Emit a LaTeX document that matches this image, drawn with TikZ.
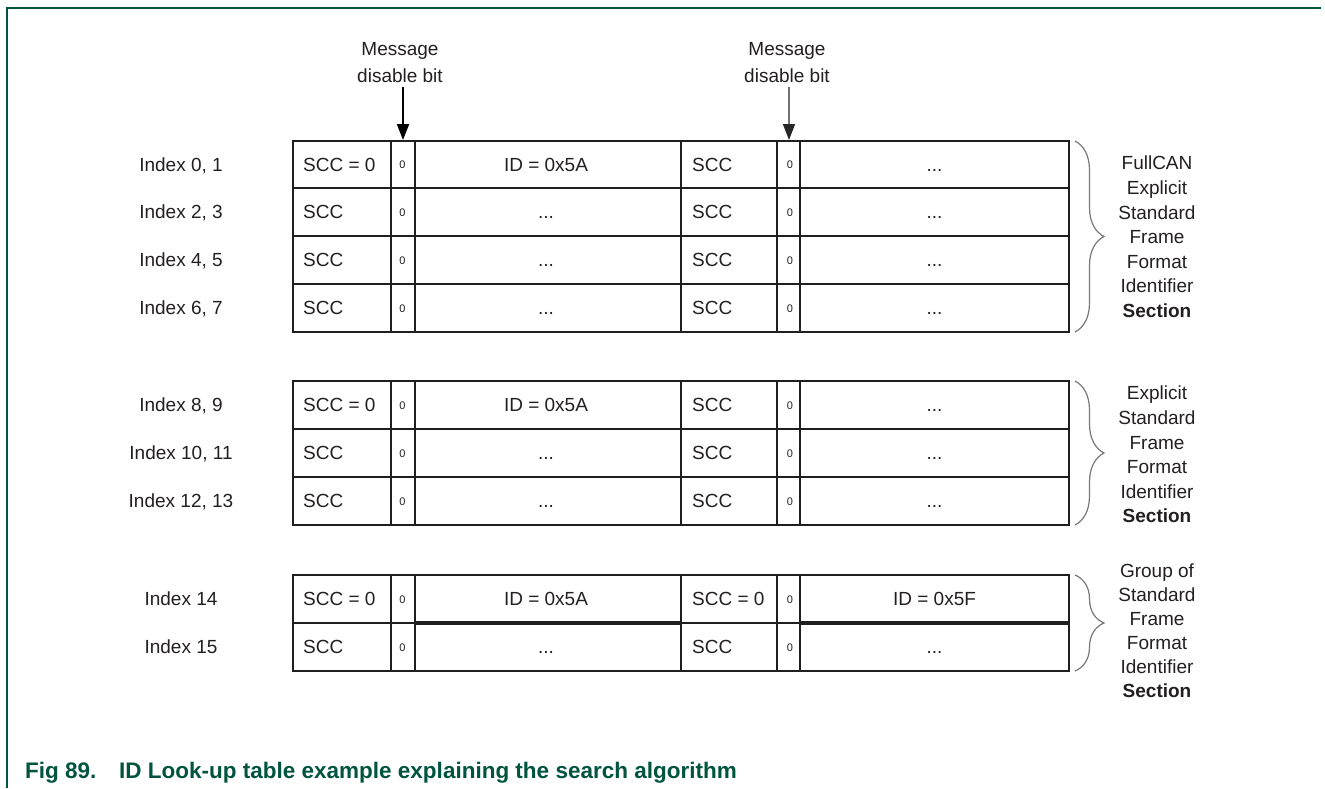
\documentclass[tikz,border=0pt]{standalone}
\usepackage{fontspec}
\setmainfont{Liberation Sans}
\usetikzlibrary{arrows.meta,decorations.pathreplacing}
\definecolor{frameg}{RGB}{0,84,64}
\definecolor{ink}{RGB}{35,31,32}
\definecolor{bracegray}{RGB}{120,120,120}
\newcommand{\lutrow}[7]{%
  \node[lbl,anchor=west] (#1a) at (303,#2) {#3};
  \node[bit] (#1b) at (402.5,#2) {0};
  \node[lbl] (#1c) at (546,#2) {#4};
  \node[lbl,anchor=west] (#1d) at (692,#2) {#5};
  \node[bit] (#1e) at (790,#2) {0};
  \node[lbl] (#1f) at (934.5,#2) {#6};
  \node[lbl] (#1i) at (181,#2) {#7};
}
\newcommand{\lutgrid}[2]{%
  \draw[tbl] (293,#1) rectangle (1069,#2);
  \foreach \xx in {391,415,681,777,800} {\draw[tbl] (\xx,#1) -- (\xx,#2);}
}
\begin{document}
\begin{tikzpicture}[x=1pt,y=-1pt,
  tbl/.style={line width=2pt, draw=black!88},
  lbl/.style={inner sep=0pt, text height=13.7pt, text depth=0pt, font=\fontsize{19}{24.5}\selectfont, text=ink},
  bit/.style={inner sep=0pt, text height=8pt, text depth=0pt, font=\fontsize{11}{13}\selectfont, text=ink},
  secttext/.style={inner sep=0pt, anchor=north, align=center, text=ink},
  msgtext/.style={inner sep=0pt, anchor=north, align=center, font=\fontsize{19}{26.7}\selectfont, text=ink},
  sectbrace/.style={draw=bracegray, line width=1.2pt, decorate, decoration={brace, amplitude=29pt}},
]
\useasboundingbox (0,0) rectangle (1325,788);
% frame
\draw[frameg, line width=2pt] (7,788) -- (7,8) -- (1321,8);

% table 1
\lutgrid{141}{332}
\foreach \yy in {188,236,284} {\draw[tbl] (293,\yy) -- (1069,\yy);}
\lutrow{ta}{164.5}{SCC = 0}{ID = 0x5A}{SCC}{...}{Index 0, 1}
\lutrow{tb}{212}{SCC}{...}{SCC}{...}{Index 2, 3}
\lutrow{tc}{260}{SCC}{...}{SCC}{...}{Index 4, 5}
\lutrow{td}{308}{SCC}{...}{SCC}{...}{Index 6, 7}

% table 2
\lutgrid{381}{525}
\foreach \yy in {429,477} {\draw[tbl] (293,\yy) -- (1069,\yy);}
\lutrow{te}{405}{SCC = 0}{ID = 0x5A}{SCC}{...}{Index 8, 9}
\lutrow{tf}{453}{SCC}{...}{SCC}{...}{Index 10, 11}
\lutrow{tg}{501}{SCC}{...}{SCC}{...}{Index 12, 13}

% table 3
\lutgrid{575}{671}
\draw[tbl] (293,623) -- (1069,623);
\draw[line width=3.5pt, black!88] (415,623) -- (681,623);
\draw[line width=3.5pt, black!88] (800,623) -- (1069,623);
\lutrow{th}{599}{SCC = 0}{ID = 0x5A}{SCC = 0}{ID = 0x5F}{Index 14}
\lutrow{ti}{647}{SCC}{...}{SCC}{...}{Index 15}

% message disable bit arrows
\node[msgtext] (msgA) at (400,42.3) {Message\\disable bit};
\node[msgtext] (msgB) at (787,42.3) {Message\\disable bit};
\coordinate (bitA) at (403,140);
\coordinate (bitB) at (789,140);
\draw[line width=2pt, black, shorten <=4pt, -{Triangle[length=16pt,width=12pt]}] (bitA |- msgA.south) -- (bitA);
\draw[line width=1.5pt, black!55, shorten <=4pt, -{Triangle[length=16pt,width=12pt,color=black!85]}] (bitB |- msgB.south) -- (bitB);

% braces
\coordinate (brA1) at (1075,141); \coordinate (brA2) at (1075,332);
\coordinate (brB1) at (1075,381); \coordinate (brB2) at (1075,525);
\coordinate (brC1) at (1075,575); \coordinate (brC2) at (1075,671);
\draw[sectbrace] (brA1) -- (brA2);
\draw[sectbrace] (brB1) -- (brB2);
\draw[sectbrace] (brC1) -- (brC2);
\node[secttext, font=\fontsize{19}{24.6}\selectfont] (secA) at (1157,156) {FullCAN\\Explicit\\Standard\\Frame\\Format\\Identifier\\\textbf{Section}};
\node[secttext, font=\fontsize{19}{24.6}\selectfont] (secB) at (1157,386) {Explicit\\Standard\\Frame\\Format\\Identifier\\\textbf{Section}};
\node[secttext, font=\fontsize{19}{23.9}\selectfont] (secC) at (1157,564) {Group of\\Standard\\Frame\\Format\\Identifier\\\textbf{Section}};

% caption
\node[anchor=base west, inner sep=0pt, font=\bfseries\fontsize{22.5}{27}\selectfont, text=frameg] (title) at (25,778.7) {Fig 89.\hspace{22.7pt}ID Look-up table example explaining the search algorithm};
\end{tikzpicture}
\end{document}
